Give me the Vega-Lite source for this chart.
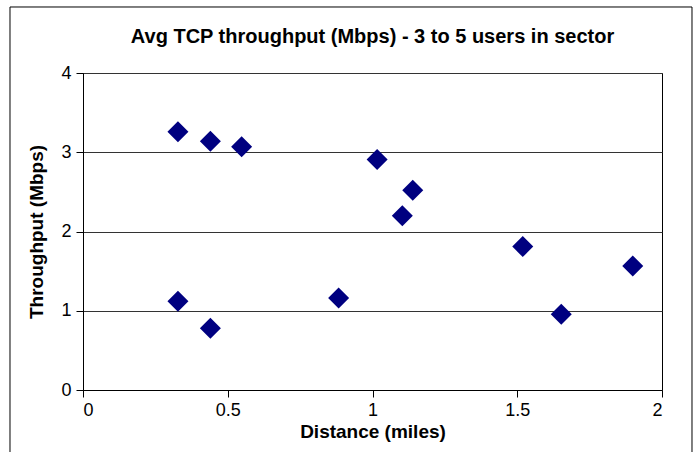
{
  "$schema": "https://vega.github.io/schema/vega-lite/v6.json",
  "width": 579,
  "height": 317,
  "autosize": {"type": "none"},
  "padding": {"left": 83, "top": 73, "right": 35, "bottom": 62},
  "background": "white",
  "title": {
    "text": "Avg TCP throughput (Mbps) - 3 to 5 users in sector",
    "font": "Liberation Sans",
    "fontSize": 20,
    "fontWeight": "bold",
    "color": "black",
    "anchor": "middle",
    "baseline": "alphabetic",
    "offset": -57
  },
  "config": {
    "font": "Liberation Sans",
    "view": {"stroke": "black", "strokeWidth": 1},
    "axis": {
      "domainColor": "black",
      "tickColor": "black",
      "labelColor": "black",
      "titleColor": "black",
      "labelFont": "Liberation Sans",
      "titleFont": "Liberation Sans",
      "labelFontSize": 18,
      "titleFontSize": 19,
      "titleFontWeight": "bold",
      "tickSize": 7
    }
  },
  "layer": [
    {
      "data": {"values": [{"x0": -0.2522, "x1": 2.1036, "y0": 4.833, "y1": -1.0}]},
      "mark": {"type": "rect", "fill": null, "stroke": "black", "strokeWidth": 1, "clip": false},
      "encoding": {
        "x": {"field": "x0", "type": "quantitative", "scale": {"domain": [0, 2]}},
        "x2": {"field": "x1"},
        "y": {"field": "y0", "type": "quantitative", "scale": {"domain": [0, 4]}},
        "y2": {"field": "y1"}
      }
    },
    {
      "data": {
        "values": [
          {"distance": 0.328, "throughput": 3.26},
          {"distance": 0.44, "throughput": 3.14},
          {"distance": 0.548, "throughput": 3.07},
          {"distance": 1.016, "throughput": 2.91},
          {"distance": 1.139, "throughput": 2.52},
          {"distance": 1.103, "throughput": 2.2},
          {"distance": 0.328, "throughput": 1.12},
          {"distance": 0.44, "throughput": 0.78},
          {"distance": 0.883, "throughput": 1.16},
          {"distance": 1.519, "throughput": 1.81},
          {"distance": 1.899, "throughput": 1.565},
          {"distance": 1.652, "throughput": 0.955}
        ]
      },
      "mark": {"type": "point", "shape": "diamond", "filled": true, "size": 441, "color": "#000080", "opacity": 1},
      "encoding": {
        "x": {
          "field": "distance",
          "type": "quantitative",
          "title": "Distance (miles)",
          "scale": {"domain": [0, 2], "nice": false, "zero": false},
          "axis": {"values": [0, 0.5, 1, 1.5, 2], "grid": false, "labelPadding": 4, "titlePadding": 3, "format": "~g"}
        },
        "y": {
          "field": "throughput",
          "type": "quantitative",
          "title": "Throughput (Mbps)",
          "scale": {"domain": [0, 4], "nice": false, "zero": false},
          "axis": {"values": [0, 1, 2, 3, 4], "grid": true, "gridColor": "#333333", "gridOpacity": 1, "format": "d", "labelPadding": 5, "titlePadding": 14}
        }
      }
    }
  ]
}
